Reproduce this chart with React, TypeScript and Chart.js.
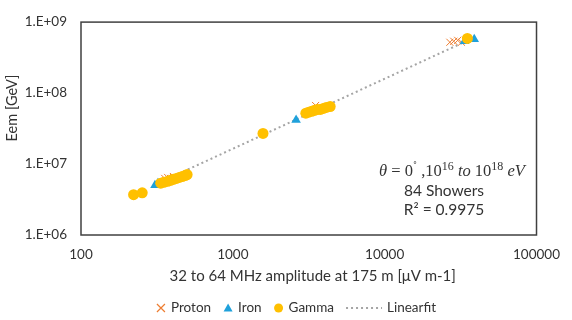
import React, { useEffect, useRef } from "react";
import { Chart, registerables } from "chart.js";
Chart.register(...registerables);

// ---- data ----
const protonX = [356, 372, 389, 406, 3508, 26870, 28510, 30270, 32060, 34040];
const protonY = [6.27e6, 6.47e6, 6.27e6, 6.67e6, 6.68e7, 5.2e8, 5.37e8, 5.53e8, 5.2e8, 5.53e8];

const ironX = [307, 321, 2610, 33550, 38900];
const ironY = [5.04e6, 5.37e6, 4.19e7, 5.37e8, 5.71e8];

const gammaX = [222, 253, 335, 351, 372, 389, 406, 425, 444, 464, 485, 500, 1580, 3025, 3160, 3305, 3455, 3610, 3775, 3945, 4125, 4375, 35060];
const gammaY = [3.7e6, 3.93e6, 5.37e6, 5.53e6, 5.71e6, 5.89e6, 6.08e6, 6.27e6, 6.47e6, 6.67e6, 6.89e6, 7.1e6, 2.7e7, 5.2e7, 5.37e7, 5.53e7, 5.71e7, 5.89e7, 5.89e7, 6.08e7, 6.27e7, 6.47e7, 5.89e8];

const fitX = [312, 38900];
const fitY = [5.2e6, 6.08e8];

const xTicks = [100, 1000, 10000, 100000];
const yTicks = [1e6, 1e7, 1e8, 1e9];

const seriesNames = ["Proton", "Iron", "Gamma", "Linearfit"];
const xTitle = "32 to 64 MHz amplitude at 175 m [\u03bcV m-1]";
const yTitle = "Eem [GeV]";
const showersText = "84 Showers";
const r2Text = "R\u00b2 = 0.9975";

// ---- styles ----
const FONT = "Lato, 'Open Sans', sans-serif";
const SERIF = "'Liberation Serif', 'DejaVu Serif', serif";
const TXT = "#333333";
const C_PROTON = "#ED7D31";
const C_IRON = "#1FA1DB";
const C_GAMMA = "#FFC000";
const C_FIT = "#A5A5A5";

const pts = (xs: number[], ys: number[]) => xs.map((x, i) => ({ x, y: ys[i] }));

const decor = {
  id: "decor",
  afterDraw(chart: any) {
    const ctx: CanvasRenderingContext2D = chart.ctx;
    const a = chart.chartArea;
    ctx.save();
    // frame
    ctx.strokeStyle = "#404040";
    ctx.lineWidth = 1.5;
    ctx.strokeRect(a.left, a.top, a.right - a.left, a.bottom - a.top);

    ctx.fillStyle = TXT;
    ctx.textBaseline = "middle";
    ctx.textAlign = "center";
    // x title
    ctx.font = `15px ${FONT}`;
    ctx.fillText(xTitle, (a.left + a.right) / 2 + 4, 276);
    // y title
    ctx.save();
    ctx.font = `14.5px ${FONT}`;
    ctx.translate(12, 108);
    ctx.rotate(-Math.PI / 2);
    ctx.fillText(yTitle, 0, 0);
    ctx.restore();

    // annotation
    ctx.font = `15.5px ${FONT}`;
    ctx.fillText(showersText, 444, 191);
    ctx.fillText(r2Text, 444, 210);

    const fs = 16.5;
    const segs: { t: string; it?: boolean; sup?: boolean }[] = [
      { t: "\u03b8", it: true },
      { t: " = 0" },
      { t: "\u02da", sup: true },
      { t: " ,10" },
      { t: "16", sup: true },
      { t: " to ", it: true },
      { t: "10" },
      { t: "18", sup: true },
      { t: " eV", it: true },
    ];
    const fontOf = (s: any) =>
      `${s.it ? "italic " : ""}${s.sup ? Math.round(fs * 0.7) : fs}px ${SERIF}`;
    let total = 0;
    const widths = segs.map((s) => {
      ctx.font = fontOf(s);
      const w = ctx.measureText(s.t).width;
      total += w;
      return w;
    });
    let x = 452 - total / 2;
    ctx.textAlign = "left";
    ctx.textBaseline = "alphabetic";
    const base = 176;
    segs.forEach((s, i) => {
      ctx.font = fontOf(s);
      ctx.fillText(s.t, x, s.sup ? base - 6 : base);
      x += widths[i];
    });

    // legend
    ctx.font = `13.5px ${FONT}`;
    ctx.textBaseline = "middle";
    const ly = 308;
    const symW = [10, 10, 10, 36];
    const gapSym = 5;
    const gapItem = 12;
    const tw = seriesNames.map((n) => ctx.measureText(n).width);
    let lw = 0;
    seriesNames.forEach((_, i) => {
      lw += symW[i] + gapSym + tw[i] + (i < 3 ? gapItem : 0);
    });
    let lx = 296 - lw / 2;
    seriesNames.forEach((n, i) => {
      const cx = lx + symW[i] / 2;
      if (i === 0) {
        ctx.strokeStyle = C_PROTON;
        ctx.lineWidth = 1.2;
        ctx.beginPath();
        ctx.moveTo(cx - 4, ly - 4);
        ctx.lineTo(cx + 4, ly + 4);
        ctx.moveTo(cx + 4, ly - 4);
        ctx.lineTo(cx - 4, ly + 4);
        ctx.stroke();
      } else if (i === 1) {
        ctx.fillStyle = C_IRON;
        ctx.beginPath();
        ctx.moveTo(cx, ly - 4.5);
        ctx.lineTo(cx + 4.5, ly + 3.5);
        ctx.lineTo(cx - 4.5, ly + 3.5);
        ctx.closePath();
        ctx.fill();
      } else if (i === 2) {
        ctx.fillStyle = C_GAMMA;
        ctx.beginPath();
        ctx.arc(cx, ly, 4.5, 0, Math.PI * 2);
        ctx.fill();
      } else {
        ctx.strokeStyle = C_FIT;
        ctx.lineWidth = 2;
        ctx.setLineDash([2, 3]);
        ctx.beginPath();
        ctx.moveTo(lx, ly);
        ctx.lineTo(lx + symW[i], ly);
        ctx.stroke();
        ctx.setLineDash([]);
      }
      ctx.fillStyle = TXT;
      ctx.textAlign = "left";
      ctx.fillText(n, lx + symW[i] + gapSym, ly);
      lx += symW[i] + gapSym + tw[i] + gapItem;
    });
    ctx.restore();
  },
};

export default function App() {
  const ref = useRef<HTMLCanvasElement | null>(null);
  useEffect(() => {
    if (!ref.current) return;
    const chart = new Chart(ref.current, {
      type: "scatter",
      data: {
        datasets: [
          {
            label: seriesNames[0],
            data: pts(protonX, protonY),
            pointStyle: "crossRot",
            pointRadius: 5,
            borderColor: C_PROTON,
            backgroundColor: C_PROTON,
            pointBorderWidth: 1,
            order: 3,
          },
          {
            label: seriesNames[1],
            data: pts(ironX, ironY),
            pointStyle: "triangle",
            pointRadius: 5.5,
            borderColor: C_IRON,
            backgroundColor: C_IRON,
            pointBorderWidth: 0,
            order: 2,
          },
          {
            label: seriesNames[2],
            data: pts(gammaX, gammaY),
            pointStyle: "circle",
            pointRadius: 5.5,
            borderColor: C_GAMMA,
            backgroundColor: C_GAMMA,
            pointBorderWidth: 0,
            order: 1,
          },
          {
            type: "line",
            label: seriesNames[3],
            data: pts(fitX, fitY),
            borderColor: C_FIT,
            borderWidth: 2,
            borderDash: [2, 3],
            pointRadius: 0,
            fill: false,
            order: 4,
          } as any,
        ],
      },
      options: {
        animation: false,
        responsive: false,
        layout: { padding: { left: 0, top: 13, right: 23, bottom: 0 } },
        plugins: { legend: { display: false }, tooltip: { enabled: false } },
        scales: {
          x: {
            type: "logarithmic",
            position: "bottom",
            min: 100,
            max: 100000,
            grid: { display: false, drawTicks: false },
            border: { display: false },
            afterBuildTicks: (s: any) => {
              s.ticks = xTicks.map((v) => ({ value: v }));
            },
            afterFit: (s: any) => {
              s.height = 85;
            },
            ticks: {
              autoSkip: false,
              maxRotation: 0,
              padding: 12,
              color: TXT,
              font: { family: FONT, size: 13.5 },
              callback: (v: any) => String(v),
            },
          },
          y: {
            type: "logarithmic",
            min: 1e6,
            max: 1e9,
            grid: { display: false, drawTicks: false },
            border: { display: false },
            afterBuildTicks: (s: any) => {
              s.ticks = yTicks.map((v) => ({ value: v }));
            },
            afterFit: (s: any) => {
              s.width = 81;
            },
            ticks: {
              autoSkip: false,
              padding: 14,
              color: TXT,
              font: { family: FONT, size: 13.5 },
              callback: (v: any) =>
                "1.E+" + String(Math.round(Math.log10(Number(v)))).padStart(2, "0"),
            },
          },
        },
      },
      plugins: [decor],
    });
    return () => chart.destroy();
  }, []);
  return (
    <div style={{ position: "fixed", left: 0, top: 0, width: 572, height: 320, background: "#fff" }}>
      <canvas ref={ref} width={572} height={320} />
    </div>
  );
}
